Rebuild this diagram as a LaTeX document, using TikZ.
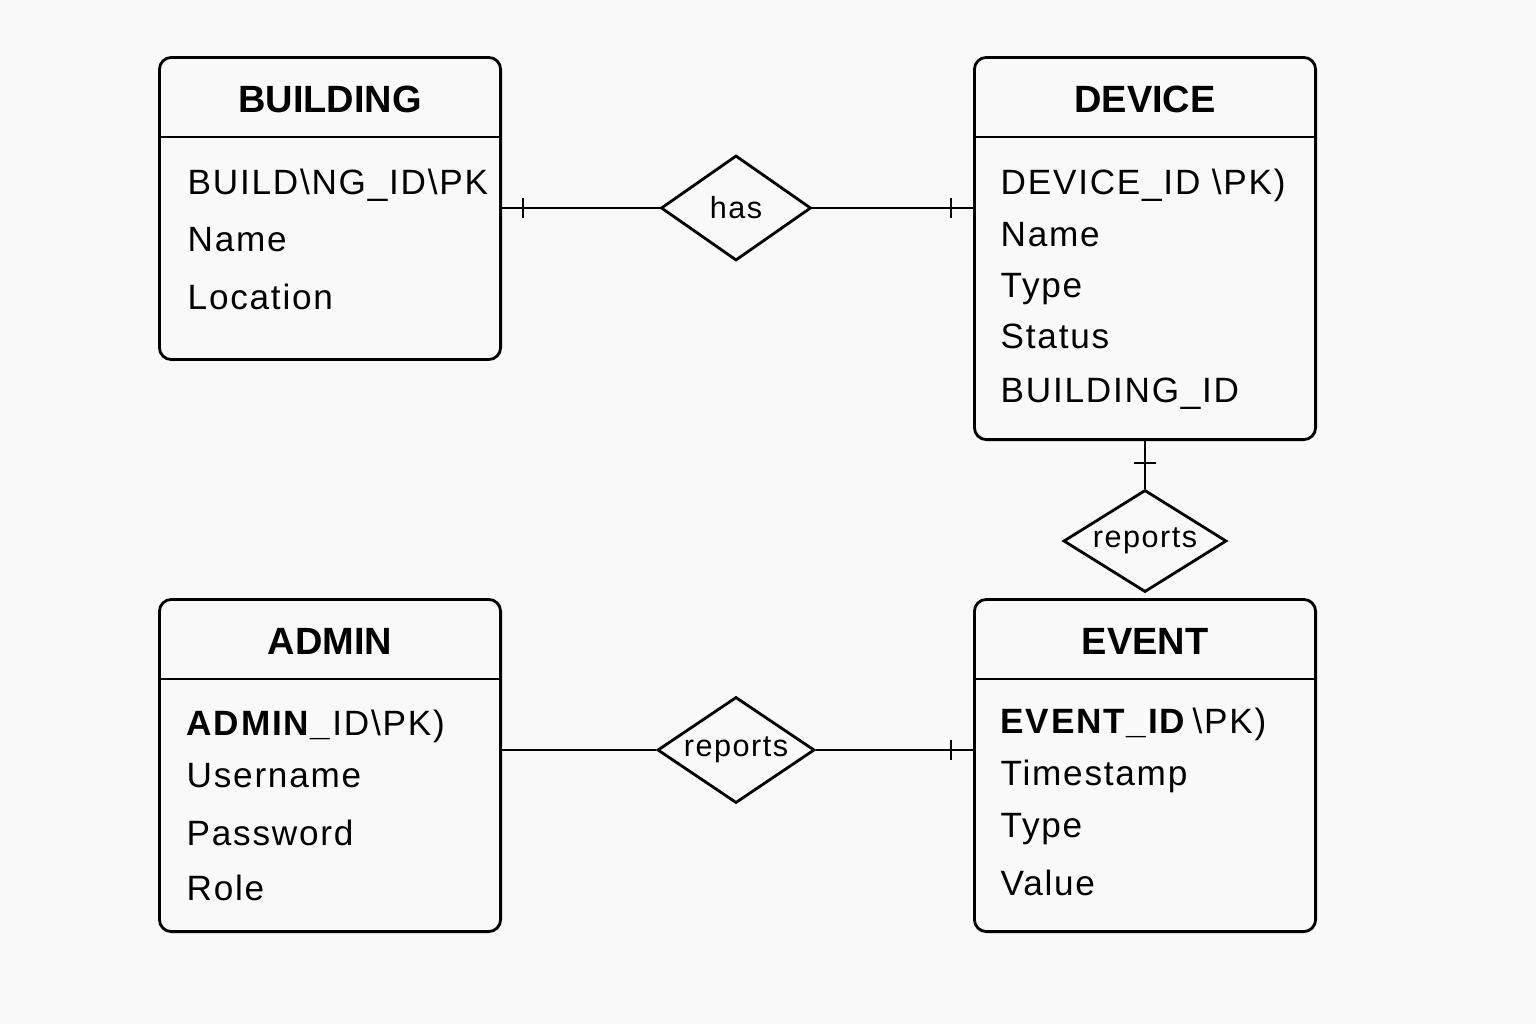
\documentclass[tikz,border=0pt]{standalone}
\usepackage{fontspec}
\setmainfont{Liberation Sans}
\newfontfamily\attrfont{Liberation Sans}[LetterSpace=5]
\usetikzlibrary{shapes.geometric, positioning}
\definecolor{paper}{RGB}{249,249,249}

\tikzset{
  entity/.style={draw, rounded corners=0.12cm, line width=0.8pt, minimum width=3.41cm,
    inner sep=0pt, anchor=north west},
  title/.style={anchor=base, inner sep=0pt, font=\fontsize{10.8}{13}\selectfont\bfseries},
  attr/.style={anchor=base west, inner sep=0pt, font=\attrfont\fontsize{10}{12}\selectfont},
  rel/.style={draw, diamond, aspect=1.7, line width=0.8pt, inner sep=0pt, fill=paper,
    font=\attrfont\fontsize{8.7}{10}\selectfont},
  link/.style={line width=0.8pt},
}

\begin{document}
\begin{tikzpicture}[x=0.01cm, y=-0.01cm]
	\useasboundingbox (0,0) rectangle (1536,1024);
	\fill[paper] (0,0) rectangle (1536,1024);

	% entities
	\node[entity, minimum height=3.02cm] (bldg) at (158,56) {};
	\node[entity, minimum height=3.82cm] (dev) at (973,56) {};
	\node[entity, minimum height=3.32cm] (adm) at (158,598) {};
	\node[entity, minimum height=3.32cm] (evt) at (973,598) {};

	\foreach \e/\name in {bldg/BUILDING, dev/DEVICE, adm/ADMIN, evt/EVENT} {
		\draw[link] ([yshift=-0.81cm]\e.north west) -- ([yshift=-0.81cm]\e.north east);
		\node[title] (\e-title) at ([yshift=-0.565cm]\e.north) {\name};
	}

	% attributes
	\foreach \t/\y [count=\i] in {BUILD\textbackslash NG\_ID\textbackslash PK/194, Name/251, Location/309}
		\node[attr] (bldg-\i) at (187,\y) {\t};
	\foreach \t/\y [count=\i] in {DEVICE\_ID \textbackslash PK)/194, Name/246, Type/297, Status/348, BUILDING\_ID/402}
		\node[attr] (dev-\i) at (1000,\y) {\t};
	\foreach \t/\y [count=\i] in {{\textbf{ADMIN\_}ID\textbackslash PK)}/735, Username/787, Password/845, Role/900}
		\node[attr] (adm-\i) at (186,\y) {\t};
	\foreach \t/\y [count=\i] in {{\textbf{EVENT\_ID}\,\textbackslash PK)}/733, Timestamp/785, Type/837, Value/895}
		\node[attr] (evt-\i) at (1000,\y) {\t};

	% relationships
	\node[rel, minimum width=1.50cm, minimum height=1.05cm] (has) at (736,208) {has};
	\node[rel, minimum width=1.63cm, minimum height=1.02cm] (devrep) at (dev.south |- 0,541) {reports};
	\node[rel, minimum width=1.57cm, minimum height=1.06cm] (admrep) at (736,750) {reports};

	% connectors
	\draw[link] (bldg.east |- has.west) -- (has.west);
	\draw[link] (has.east) -- (dev.west |- has.east);
	\draw[link] (dev.south) -- (devrep.north);
	\draw[link] (adm.east |- admrep.west) -- (admrep.west);
	\draw[link] (admrep.east) -- (evt.west |- admrep.east);

	% one-side bars
	\coordinate (bar1) at (523,208);
	\coordinate (bar2) at (951,208);
	\coordinate (bar3) at (dev.south |- 0,463);
	\coordinate (bar4) at (951,750);
	\draw[link] (bar1) ++(0,-10) -- ++(0,20);
	\draw[link] (bar2) ++(0,-10) -- ++(0,20);
	\draw[link] (bar3) ++(-11,0) -- ++(22,0);
	\draw[link] (bar4) ++(0,-10) -- ++(0,20);
\end{tikzpicture}
\end{document}
